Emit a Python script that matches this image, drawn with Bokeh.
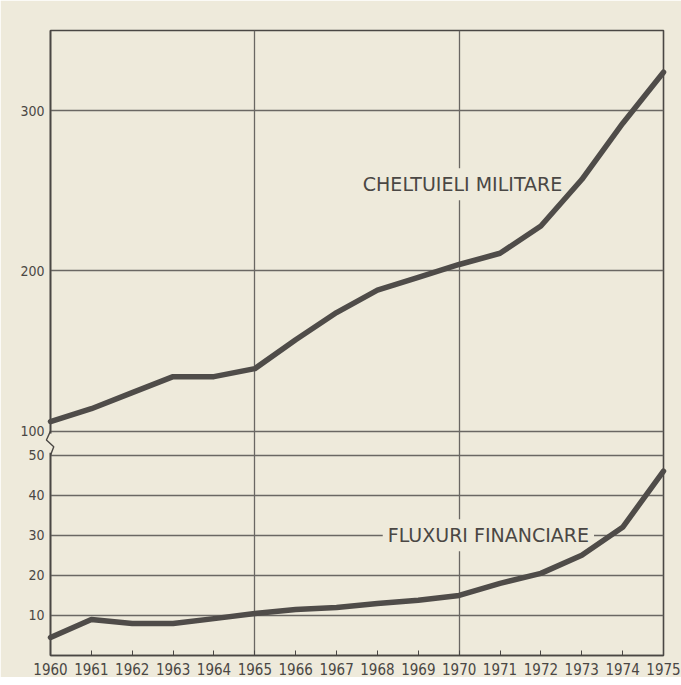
from bokeh.plotting import figure
from bokeh.models import Range1d, FixedTicker, Label
from bokeh.embed import file_html
from bokeh.resources import INLINE

years = list(range(1960, 1976))
cheltuieli_militare = [106, 114, 124, 134, 134, 139, 157, 174, 188, 196, 204, 211, 228, 257, 292, 324]
fluxuri_financiare = [4.5, 9, 8, 8, 9.2, 10.5, 11.5, 12, 13, 13.8, 15, 18, 20.5, 25, 32, 46]
low_ticks = [10, 20, 30, 40, 50]
high_ticks = [100, 200, 300]

BG = "#eeeadb"
INK = "#4a4744"
GRID = "#6a6763"

# lower section: 0..156 primary units; upper section shares the frame with its own range
LOW_END = 156
MIL_START, MIL_END = -40, 350

def mil_to_low(v):
    return (v - MIL_START) / (MIL_END - MIL_START) * LOW_END

p = figure(width=681, height=677, output_backend="svg", toolbar_location=None,
           x_range=Range1d(1960, 1975), y_range=Range1d(0, LOW_END),
           min_border_left=50, min_border_right=18, min_border_top=30, min_border_bottom=22)
p.extra_y_ranges = {"mil": Range1d(MIL_START, MIL_END)}
p.background_fill_color = BG
p.border_fill_color = BG
p.outline_line_color = INK
p.outline_line_width = 1.6

# grid
p.xgrid.ticker = FixedTicker(ticks=[1965, 1970])
p.xgrid.grid_line_color = GRID
p.xgrid.grid_line_width = 1.3
ytick_pos = low_ticks + [mil_to_low(v) for v in high_ticks]
p.ygrid.ticker = FixedTicker(ticks=ytick_pos)
p.ygrid.grid_line_color = GRID
p.ygrid.grid_line_width = 1.3

# axes
p.xaxis.ticker = FixedTicker(ticks=years)
p.xaxis.major_tick_in = 5
p.xaxis.major_tick_out = 0
p.xaxis.minor_tick_line_color = None
p.xaxis.major_tick_line_color = INK
p.xaxis.axis_line_color = INK
p.xaxis.axis_line_width = 1.6
p.xaxis.major_label_standoff = 7
p.xaxis.major_label_text_font = "DejaVu Sans Condensed"
p.xaxis.major_label_text_font_size = "15px"
p.xaxis.major_label_text_color = INK

p.yaxis.ticker = FixedTicker(ticks=ytick_pos)
p.yaxis.major_label_overrides = {mil_to_low(v): str(v) for v in high_ticks}
p.yaxis.major_tick_line_color = None
p.yaxis.major_tick_out = 0
p.yaxis.major_tick_in = 0
p.yaxis.minor_tick_line_color = None
p.yaxis.axis_line_color = INK
p.yaxis.axis_line_width = 1.6
p.yaxis.major_label_standoff = 6
p.yaxis.major_label_text_font = "DejaVu Sans Condensed"
p.yaxis.major_label_text_font_size = "14px"
p.yaxis.major_label_text_color = INK

# series labels (background hides the grid lines behind them)
lab_kw = dict(text_font="DejaVu Sans", text_font_size="19px", text_color=INK,
              background_fill_color=BG, text_baseline="middle", text_align="left")
p.add_layout(Label(x=1967.52, y=254, y_range_name="mil", text="CHELTUIELI MILITARE",
                   padding=5, **lab_kw))
p.add_layout(Label(x=1968.13, y=30, text="FLUXURI FINANCIARE", padding=5, **lab_kw))

# data lines, drawn above the labels
p.line(years, cheltuieli_militare, y_range_name="mil", line_color="#4f4c49",
       line_width=5.5, line_join="round", line_cap="round", level="overlay")
p.line(years, fluxuri_financiare, line_color="#4f4c49",
       line_width=5.5, line_join="round", line_cap="round", level="overlay")

# axis break on the left edge
p.line([1960, 1960], [50.6, 55.4], line_color=BG, line_width=5, level="overlay")
p.line([1960, 1959.9, 1960.08, 1960], [56, 53.8, 52.1, 50], line_color=INK,
       line_width=1.4, level="overlay")

open("out.html", "w").write(file_html(p, INLINE))
